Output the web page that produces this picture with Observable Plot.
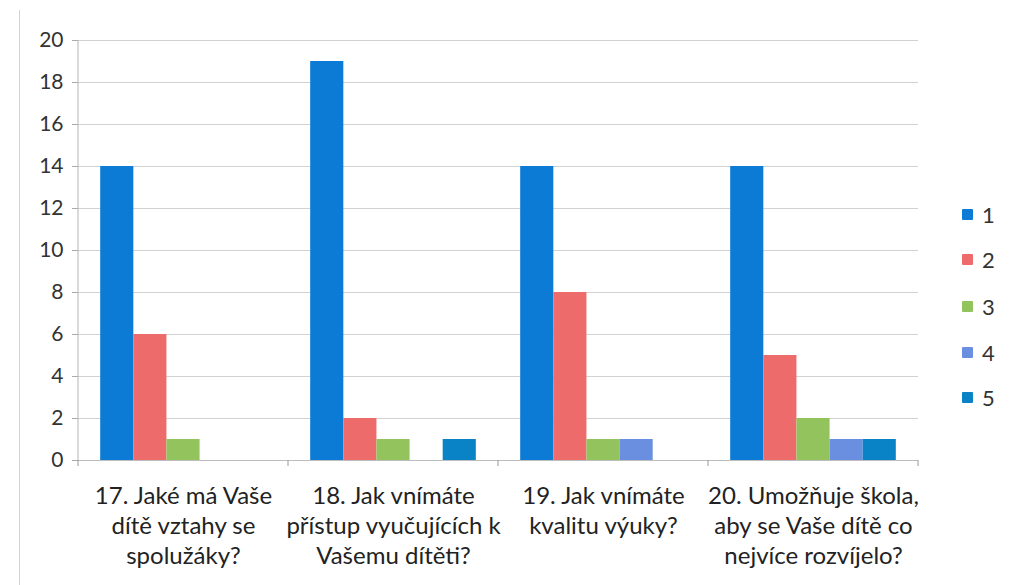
<!DOCTYPE html>
<html>
<head>
<meta charset="utf-8">
<script src="https://cdn.jsdelivr.net/npm/d3@7"></script>
<script src="https://cdn.jsdelivr.net/npm/@observablehq/plot@0.6"></script>
<style>
  body { margin: 0; background: #fff; }
  #wrap { position: relative; width: 1010px; height: 585px; overflow: hidden; background: #fff;
          font-family: Lato, "Liberation Sans Narrow", "Noto Sans", sans-serif; color: #333; }
  #wrap svg { position: absolute; left: 0; top: 0; }
  .edge { position: absolute; left: 19px; top: 10px; width: 1px; height: 575px; background: #d4d4d4; }
  .legend { position: absolute; left: 962px; top: 0; }
  .legend .item { position: absolute; left: 0; display: flex; align-items: center; white-space: nowrap; font-size: 22px; color: #333; }
  .legend .sw { width: 11px; height: 11px; margin-right: 9px; border-radius: 1px; }
</style>
</head>
<body>
<div id="wrap"><div class="edge"></div></div>
<script>
// ---- data ----
const categories = ["17", "18", "19", "20"];
const categoryLabels = [
  "17. Jaké má Vaše\ndítě vztahy se\nspolužáky?",
  "18. Jak vnímáte\npřístup vyučujících k\nVašemu dítěti?",
  "19. Jak vnímáte\nkvalitu výuky?",
  "20. Umožňuje škola,\naby se Vaše dítě co\nnejvíce rozvíjelo?"
];
const seriesNames = ["1", "2", "3", "4", "5"];
const seriesColors = ["#0b7bd6", "#ee6b6b", "#93c35d", "#6b8fe0", "#0a82c6"];
const series1 = [14, 19, 14, 14];
const series2 = [6, 2, 8, 5];
const series3 = [1, 1, 1, 2];
const series4 = [0, 0, 1, 1];
const series5 = [0, 1, 0, 1];
const yTicks = [0, 2, 4, 6, 8, 10, 12, 14, 16, 18, 20];

const seriesValues = [series1, series2, series3, series4, series5];
const rows = [];
categories.forEach((c, i) => seriesNames.forEach((s, j) => rows.push({cat: c, series: s, value: seriesValues[j][i]})));
const labelOf = new Map(categories.map((c, i) => [c, categoryLabels[i]]));

const font = 'Lato, "Liberation Sans Narrow", "Noto Sans", sans-serif';

const plot = Plot.plot({
  width: 1010,
  height: 585,
  marginLeft: 77,
  marginRight: 92,
  marginTop: 40,
  marginBottom: 125,
  style: {fontFamily: font, background: "transparent", color: "#333", overflow: "visible"},
  fx: {domain: categories, padding: 0, label: null, axis: null},
  x: {domain: seriesNames, paddingInner: 0, paddingOuter: 0.67, axis: null, round: false},
  y: {domain: [0, 20], label: null, axis: null},
  color: {domain: seriesNames, range: seriesColors},
  marks: [
    Plot.gridY(yTicks, {stroke: "#d2d2d2", strokeOpacity: 1, strokeWidth: 1}),
    Plot.ruleY([0], {stroke: "#bdbdbd", strokeWidth: 1}),
    Plot.barY(rows, {fx: "cat", x: "series", y: "value", fill: "series"}),
    Plot.axisY(yTicks, {anchor: "left", tickSize: 6, tickPadding: 9, fontSize: 21, stroke: "#aaa", fill: "#333", label: null}),
    Plot.axisFx({anchor: "bottom", tickSize: 0, tickPadding: 22, fontSize: 24, lineHeight: 1.25, fill: "#222",
                 tickFormat: d => labelOf.get(d), label: null})
  ]
});
document.getElementById("wrap").appendChild(plot);

// vertical axis line and category boundary ticks from the plot's own scales
const fx = plot.scale("fx");
const y = plot.scale("y");
const svg = d3.select(plot);
const y0 = y.apply(0), yTop = y.apply(20);
const x0 = fx.apply(categories[0]);
svg.append("line").attr("x1", x0).attr("x2", x0).attr("y1", yTop).attr("y2", y0)
  .attr("stroke", "#b5b5b5").attr("stroke-width", 1);
const edges = categories.map(c => fx.apply(c)).concat([fx.apply(categories[categories.length - 1]) + fx.bandwidth]);
svg.append("g").selectAll("line").data(edges).join("line")
  .attr("x1", d => d).attr("x2", d => d).attr("y1", y0).attr("y2", y0 + 6)
  .attr("stroke", "#9a9a9a").attr("stroke-width", 1);

// legend
const legend = d3.select("#wrap").append("div").attr("class", "legend");
const legendTops = [215, 260, 307, 353, 398];
seriesNames.forEach((s, i) => {
  const it = legend.append("div").attr("class", "item").style("top", (legendTops[i] - 14) + "px");
  it.append("div").attr("class", "sw").style("background", seriesColors[i]);
  it.append("span").text(s);
});
</script>
</body>
</html>
